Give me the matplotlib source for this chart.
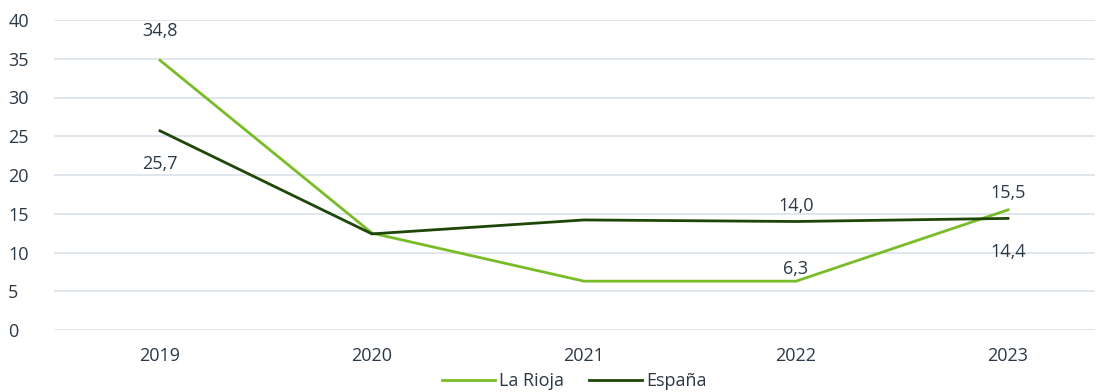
import matplotlib.pyplot as plt

plt.rcParams['font.family'] = ['Open Sans', 'DejaVu Sans']

years = ["2019", "2020", "2021", "2022", "2023"]
la_rioja = [34.8, 12.5, 6.3, 6.3, 15.5]
espana = [25.7, 12.4, 14.2, 14.0, 14.4]

# which points carry a value label
rioja_labels = [0, 3, 4]
espana_labels = [0, 3, 4]

text_color = "#2b3845"
rioja_color = "#78bc28"
espana_color = "#1d4709"
fs = 13

fig = plt.figure(figsize=(11.03, 3.92), dpi=100)
ax = fig.add_axes([54 / 1103, 62 / 392, (1095 - 54) / 1103, 310 / 392])

x = list(range(len(years)))
ax.plot(x, la_rioja, color=rioja_color, lw=2, label="La Rioja")
ax.plot(x, espana, color=espana_color, lw=2, label="España")


def fmt(v):
    return f"{v:.1f}".replace(".", ",")


# label offsets in points (positive = above the point)
rioja_off = {0: 21, 3: 9, 4: 12}
espana_off = {0: -24, 3: 11, 4: -24}
for i in rioja_labels:
    ax.annotate(fmt(la_rioja[i]), (i, la_rioja[i]), xytext=(0, rioja_off[i]),
                textcoords="offset points", ha="center", va="center",
                fontsize=fs, color=text_color)
for i in espana_labels:
    ax.annotate(fmt(espana[i]), (i, espana[i]), xytext=(0, espana_off[i]),
                textcoords="offset points", ha="center", va="center",
                fontsize=fs, color=text_color)

ax.set_xlim(-0.5, (1095 - 160) / 212)
ax.set_ylim(0, 40)
ax.set_yticks(range(0, 41, 5))
ax.set_xticks(x)
ax.set_xticklabels(years)
ax.grid(axis="y", color="#dce4ec", lw=1.3)
ax.set_axisbelow(True)
for s in ax.spines.values():
    s.set_visible(False)
ax.tick_params(length=0, labelsize=fs, colors=text_color)
ax.tick_params(axis="y", pad=33)
ax.tick_params(axis="x", pad=12)
for lbl in ax.get_yticklabels():
    lbl.set_horizontalalignment("left")

ax.legend(loc="upper center", bbox_to_anchor=(0.5, -0.135), ncol=2,
          frameon=False, fontsize=fs, labelcolor=text_color,
          handlelength=2.9, handletextpad=0.25, columnspacing=1.4,
          borderaxespad=0, borderpad=0)

fig.savefig("out.png", dpi=100)
